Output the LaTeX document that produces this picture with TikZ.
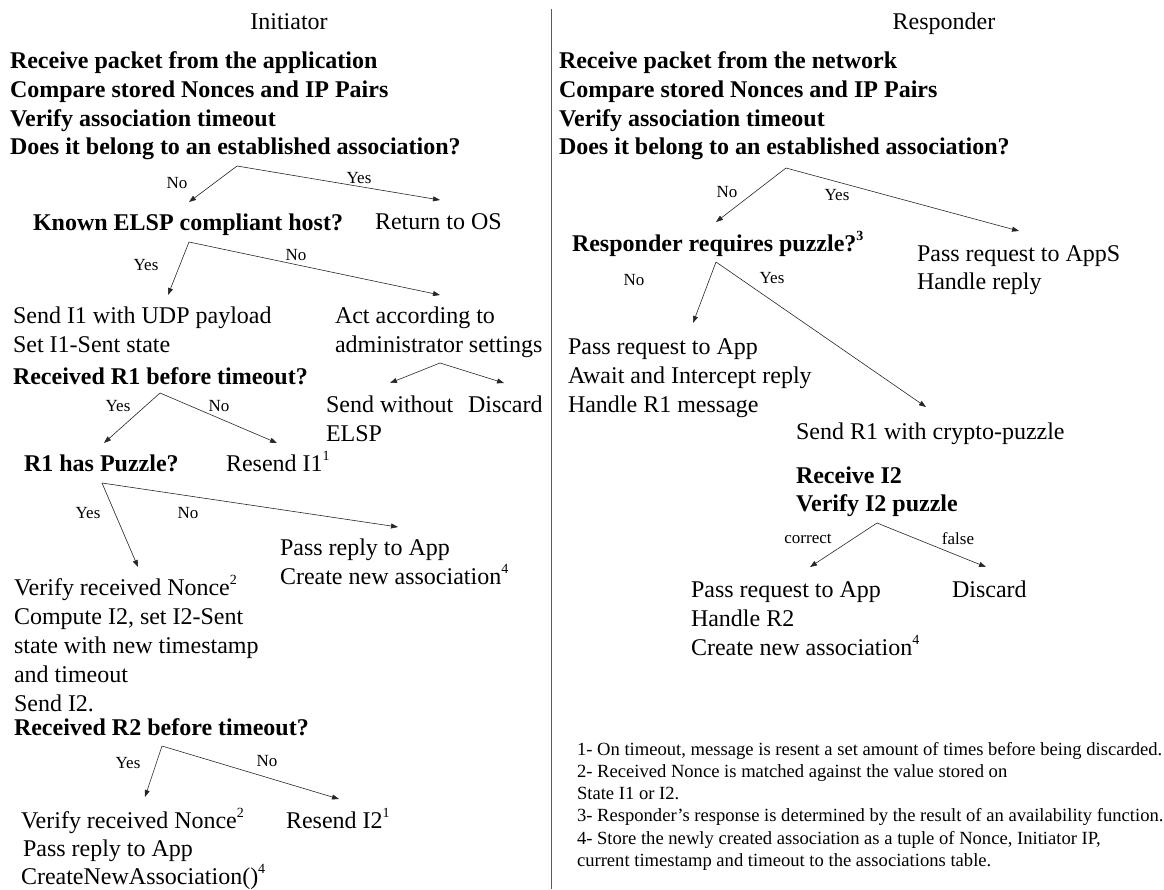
\documentclass[tikz,border=0pt]{standalone}
\usepackage{fontspec}
\setmainfont{Liberation Serif}
\usetikzlibrary{arrows.meta}
% raised footnote marker
\newcommand\fnm[1]{\raisebox{0.42em}{\fontsize{14}{14}\selectfont #1}}
\begin{document}
\begin{tikzpicture}[x=1pt,y=-1pt,
  every node/.style={inner sep=0pt, outer sep=0pt},
  % multi-line texts are placed by the baseline of their last line
  txt/.style={anchor=base west, align=left, font=\fontsize{24}{29}\selectfont},
  txtb/.style={anchor=base west, align=left, font=\fontsize{24}{28}\selectfont},
  qst/.style={anchor=base west, align=left, font=\fontsize{24}{28.8}\selectfont\bfseries},
  head/.style={anchor=base, font=\fontsize{24}{29}\selectfont},
  lbl/.style={anchor=center, font=\fontsize{17}{20}\selectfont},
  note/.style={anchor=base west, align=left, font=\fontsize{18.6}{22.3}\selectfont},
  flow/.style={draw=black!85, line width=0.6pt, -{Triangle[length=7pt,width=5pt]}},
  divider/.style={draw=black!65, line width=0.9pt},
]
\useasboundingbox (0,0) rectangle (1164,889);

% ---------------- column headings and divider ----------------
\node[head] (ini) at (289,29) {Initiator};
\node[head] (res) at (944,29) {Responder};
\coordinate (dtop) at (551,9);
\coordinate (dbot) at (551,889);
\draw[divider] (dtop) -- (dbot);

% ---------------- initiator side ----------------
\node[qst] (i0) at (10,154.9) {Receive packet from the application\\Compare stored Nonces and IP Pairs\\Verify association timeout\\Does it belong to an established association?};
\coordinate (ia) at (237,166);
\coordinate (ia1) at (189,202);
\coordinate (ia2) at (440,200);
\draw[flow] (ia) -- (ia1);
\draw[flow] (ia) -- (ia2);
\node[lbl] (ian) at (177,183) {No};
\node[lbl] (iay) at (359,178) {Yes};

\node[qst] (i1) at (33,230) {Known ELSP compliant host?};
\node[txt] (i1os) at (375,229) {Return to OS};
\coordinate (ib) at (189,242);
\coordinate (ib1) at (168,295);
\coordinate (ib2) at (440,295);
\draw[flow] (ib) -- (ib1);
\draw[flow] (ib) -- (ib2);
\node[lbl] (iby) at (146,265) {Yes};
\node[lbl] (ibn) at (296,255) {No};

\node[txt] (i2) at (13,352) {Send I1 with UDP payload\\Set I1-Sent state};
\node[qst] (i3) at (13,384) {Received R1 before timeout?};
\node[txt] (i2a) at (335,352) {Act according to\\administrator settings};
\coordinate (ic) at (440,363);
\coordinate (ic1) at (390,383);
\coordinate (ic2) at (504,383);
\draw[flow] (ic) -- (ic1);
\draw[flow] (ic) -- (ic2);
\node[txt] (i2s) at (326,441) {Send without\\ELSP};
\node[txt] (i2d) at (468,412) {Discard};

\coordinate (id) at (160,393);
\coordinate (id1) at (104,443);
\coordinate (id2) at (277,443);
\draw[flow] (id) -- (id1);
\draw[flow] (id) -- (id2);
\node[lbl] (idy) at (118,406) {Yes};
\node[lbl] (idn) at (219,406) {No};

\node[qst] (i4) at (24,471) {R1 has Puzzle?};
\node[txt] (i4r) at (226,471) {Resend I1\fnm{1}};
\coordinate (ie) at (102,483);
\coordinate (ie1) at (138,567);
\coordinate (ie2) at (398,527);
\draw[flow] (ie) -- (ie1);
\draw[flow] (ie) -- (ie2);
\node[lbl] (iey) at (88,513) {Yes};
\node[lbl] (ien) at (188,513) {No};

\node[txt] (i4p) at (280,584) {Pass reply to App\\Create new association\fnm{4}};
\node[txt] (i5) at (14,711) {Verify received Nonce\fnm{2}\\Compute I2, set I2-Sent\\state with new timestamp\\and timeout\\Send I2.};
\node[qst] (i6) at (14,735) {Received R2 before timeout?};
\coordinate (if) at (162,746);
\coordinate (if1) at (145,797);
\coordinate (if2) at (339,799);
\draw[flow] (if) -- (if1);
\draw[flow] (if) -- (if2);
\node[lbl] (ify) at (128,763) {Yes};
\node[lbl] (ifn) at (267,761) {No};

\node[txtb] (i7) at (21,884) {Verify received Nonce\fnm{2}\\\hspace{2pt}Pass reply to App\\CreateNewAssociation()\fnm{4}};
\node[txt] (i7r) at (286,828) {Resend I2\fnm{1}};

% ---------------- responder side ----------------
\node[qst] (r0) at (559,154.9) {Receive packet from the network\\Compare stored Nonces and IP Pairs\\Verify association timeout\\Does it belong to an established association?};
\coordinate (ra) at (786,168);
\coordinate (ra1) at (716,222);
\coordinate (ra2) at (1019,231);
\draw[flow] (ra) -- (ra1);
\draw[flow] (ra) -- (ra2);
\node[lbl] (ran) at (727,192) {No};
\node[lbl] (ray) at (837,195) {Yes};

\node[qst] (r1) at (572,251) {Responder requires puzzle?\fnm{3}};
\node[txtb] (r1p) at (917,289) {Pass request to AppS\\Handle reply};
\coordinate (rb) at (716,262);
\coordinate (rb1) at (693,323);
\coordinate (rb2) at (926,407);
\draw[flow] (rb) -- (rb1);
\draw[flow] (rb) -- (rb2);
\node[lbl] (rbn) at (634,280) {No};
\node[lbl] (rby) at (772,278) {Yes};

\node[txt] (r2) at (568,412) {Pass request to App\\Await and Intercept reply\\Handle R1 message};
\node[txt] (r3) at (796,439) {Send R1 with crypto-puzzle};
\node[qst] (r4) at (796,511.8) {Receive I2\\Verify I2 puzzle};
\coordinate (rc) at (877,523);
\coordinate (rc1) at (810,567);
\coordinate (rc2) at (986,567);
\draw[flow] (rc) -- (rc1);
\draw[flow] (rc) -- (rc2);
\node[lbl] (rcc) at (808,539) {correct};
\node[lbl] (rcf) at (958,539) {false};

\node[txt] (r5) at (691,655) {Pass request to App\\Handle R2\\Create new association\fnm{4}};
\node[txt] (r5d) at (952,597) {Discard};

% ---------------- footnotes ----------------
\node[note] (notes) at (577,866.5) {1- On timeout, message is resent a set amount of times before being discarded.\\2- Received Nonce is matched against the value stored on\\State I1 or I2.\\3- Responder’s response is determined by the result of an availability function.\\4- Store the newly created association as a tuple of Nonce, Initiator IP,\\current timestamp and timeout to the associations table.};
\end{tikzpicture}
\end{document}
